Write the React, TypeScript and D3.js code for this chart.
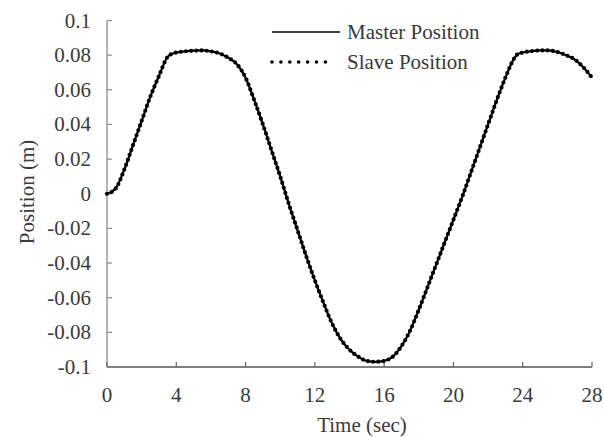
import * as d3 from "d3";

// ---------------------------------------------------------------------------
// Data
// ---------------------------------------------------------------------------

const timeSec = [
  0, 0.5, 1, 1.5, 2, 2.5, 3, 3.5, 3.7, 4, 4.5, 5, 5.5, 6, 6.5, 7, 7.5, 8, 8.5,
  9, 9.5, 10, 10.5, 11, 11.5, 12, 12.5, 13, 13.5, 14, 14.5, 15, 15.5, 16, 16.5,
  17, 17.5, 18, 18.5, 19, 19.5, 20, 20.5, 21, 21.5, 22, 22.5, 23, 23.5, 23.7,
  24, 24.5, 25, 25.5, 26, 26.5, 27, 27.5, 28,
];

const masterPos = [
  0, 0.003, 0.014, 0.028, 0.042, 0.056, 0.068, 0.079, 0.0805, 0.0815, 0.0822,
  0.0826, 0.0827, 0.0822, 0.081, 0.0785, 0.0748, 0.067, 0.054, 0.04, 0.025,
  0.01, -0.006, -0.021, -0.036, -0.05, -0.063, -0.075, -0.084, -0.09, -0.094,
  -0.0965, -0.097, -0.0965, -0.094, -0.088, -0.079, -0.067, -0.054, -0.041,
  -0.028, -0.015, -0.002, 0.012, 0.026, 0.04, 0.054, 0.067, 0.078, 0.0805,
  0.0815, 0.0823, 0.0827, 0.0827, 0.0818, 0.08, 0.0775, 0.073, 0.067,
];

const slavePos = [
  0, 0.003, 0.014, 0.028, 0.042, 0.056, 0.068, 0.079, 0.0805, 0.0815, 0.0822,
  0.0826, 0.0827, 0.0822, 0.081, 0.0785, 0.0748, 0.067, 0.054, 0.04, 0.025,
  0.01, -0.006, -0.021, -0.036, -0.05, -0.063, -0.075, -0.084, -0.09, -0.094,
  -0.0965, -0.097, -0.0965, -0.094, -0.088, -0.079, -0.067, -0.054, -0.041,
  -0.028, -0.015, -0.002, 0.012, 0.026, 0.04, 0.054, 0.067, 0.078, 0.0805,
  0.0815, 0.0823, 0.0827, 0.0827, 0.0818, 0.08, 0.0775, 0.073, 0.067,
];

const xTicks = [0, 4, 8, 12, 16, 20, 24, 28];
const yTicks = [0.1, 0.08, 0.06, 0.04, 0.02, 0, -0.02, -0.04, -0.06, -0.08, -0.1];

const seriesNames = ["Master Position", "Slave Position"];

// ---------------------------------------------------------------------------
// Layout
// ---------------------------------------------------------------------------

const WIDTH = 604;
const HEIGHT = 438;
const FONT = "Liberation Serif";
const TEXT = "#3a3a3a";

const left = 107;
const right = 592;
const top = 20.5;
const bottom = 367;

export default function App() {
  const x = d3.scaleLinear().domain([0, 28]).range([left, right]);
  const y = d3.scaleLinear().domain([-0.1, 0.1]).range([bottom, top]);

  const line = d3
    .line<number>()
    .x((_d, i) => x(timeSec[i]))
    .y((d) => y(d))
    .curve(d3.curveMonotoneX);

  const fmt = (v: number) => (v === 0 ? "0" : String(+v.toFixed(2)));

  const txt = { fontFamily: FONT, fill: TEXT } as const;

  return (
    <svg
      width={WIDTH}
      height={HEIGHT}
      style={{ position: "absolute", left: 0, top: 0, background: "#fff" }}
    >
      {/* ---- axes ---- */}
      <line x1={left} x2={left} y1={top} y2={bottom} stroke="#8a8a8a" strokeWidth={1.3} />
      <line x1={left} x2={right} y1={bottom} y2={bottom} stroke="#555" strokeWidth={1.3} />

      {yTicks.map((t) => (
        <g key={`y${t}`}>
          <line x1={left} x2={left + 5} y1={y(t)} y2={y(t)} stroke="#8a8a8a" strokeWidth={1.2} />
          <text
            x={91}
            y={y(t)}
            textAnchor="end"
            dominantBaseline="central"
            fontSize={21}
            style={txt}
          >
            {fmt(t)}
          </text>
        </g>
      ))}

      {xTicks.map((t) => (
        <g key={`x${t}`}>
          <line x1={x(t)} x2={x(t)} y1={bottom} y2={bottom - 5} stroke="#666" strokeWidth={1.2} />
          <text x={x(t)} y={395} textAnchor="middle" dominantBaseline="central" fontSize={21} style={txt}>
            {t}
          </text>
        </g>
      ))}

      <text x={362} y={425} textAnchor="middle" dominantBaseline="central" fontSize={21} style={txt}>
        Time (sec)
      </text>
      <text
        transform={`translate(27, 192) rotate(-90)`}
        textAnchor="middle"
        dominantBaseline="central"
        fontSize={21}
        style={txt}
      >
        Position (m)
      </text>

      {/* ---- series ---- */}
      <path d={line(masterPos) ?? ""} fill="none" stroke="#000" strokeWidth={2.2} />
      <path
        d={line(slavePos) ?? ""}
        fill="none"
        stroke="#000"
        strokeWidth={4.2}
        strokeLinecap="round"
        strokeDasharray="0 5.2"
      />

      {/* ---- legend ---- */}
      <line x1={272} x2={340} y1={32} y2={32} stroke="#000" strokeWidth={1.3} />
      <text x={347} y={32} dominantBaseline="central" fontSize={21} style={txt}>
        {seriesNames[0]}
      </text>
      <line
        x1={272}
        x2={334}
        y1={62}
        y2={62}
        stroke="#000"
        strokeWidth={3.6}
        strokeLinecap="round"
        strokeDasharray="0 8.9"
      />
      <text x={347} y={62} dominantBaseline="central" fontSize={21} style={txt}>
        {seriesNames[1]}
      </text>
    </svg>
  );
}
